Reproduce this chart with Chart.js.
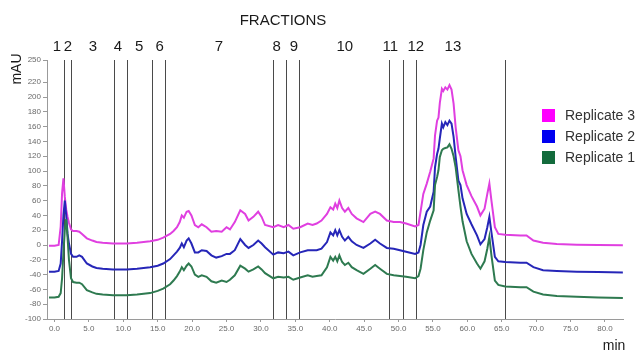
<!DOCTYPE html>
<html>
<head>
<meta charset="utf-8">
<script src="https://cdn.jsdelivr.net/npm/chart.js@4.4.1/dist/chart.umd.min.js"></script>
<style>
  html, body { margin: 0; padding: 0; background: #ffffff; }
  #wrap { width: 642px; height: 352px; position: relative; }
</style>
</head>
<body>
<div id="wrap"><canvas id="chromatogram" width="642" height="352"></canvas></div>
<script>
// Elution time (min)
const minutes = [
  -0.8, 0.0, 0.6, 0.9, 1.1, 1.3, 1.5, 1.7, 1.9, 2.1,
  2.4, 2.7, 3.2, 3.6, 4.0, 4.7, 5.5, 6.1, 7.0, 8.5,
  10.5, 12.0, 13.9, 15.0, 15.8, 16.8, 17.3, 17.8, 18.2, 18.5,
  18.8, 19.2, 19.5, 19.9, 20.4, 20.9, 21.4, 22.1, 22.8, 23.5,
  24.3, 25.0, 25.5, 26.2, 27.0, 27.7, 28.2, 28.9, 29.6, 30.1,
  30.6, 31.8, 32.5, 33.3, 34.0, 34.7, 35.7, 36.8, 37.5, 38.1,
  38.8, 39.6, 40.1, 40.5, 40.8, 41.1, 41.4, 41.8, 42.2, 42.7,
  43.2, 43.9, 44.9, 45.9, 46.6, 47.3, 48.3, 49.3, 50.2, 51.1,
  52.4, 52.9, 53.2, 53.6, 54.1, 54.6, 55.1, 55.3, 55.6, 55.8,
  56.0, 56.3, 56.5, 56.8, 57.1, 57.4, 57.7, 58.0, 58.3, 58.7,
  59.0, 59.3, 59.9, 60.6, 61.4, 61.9, 62.5, 62.9, 63.2, 63.5,
  64.0, 64.5, 65.5, 67.7, 68.6, 69.6, 71.0, 73.0, 75.9, 79.0,
  82.6
];

// Absorbance (mAU), one trace per replicate
const replicate3 = [
  -1, -1, 0, 25, 70, 90, 65, 48, 38, 30,
  21, 19, 19, 18, 15, 9, 6, 4, 3, 2,
  2, 3, 5, 7, 10, 15, 19, 24, 31, 40,
  37, 45, 46, 40, 27, 24, 28, 24, 18, 19,
  18, 24, 21, 31, 47, 42, 33, 38, 45, 38,
  27, 24, 27, 24, 27, 22, 24, 29, 27, 29,
  33, 42, 51, 48, 56, 50, 60, 50, 45, 50,
  42, 36, 31, 42, 45, 42, 33, 31, 31, 29,
  25, 27, 45, 69, 83, 99, 117, 148, 168, 172,
  192, 211, 208, 213, 210, 216, 210, 191, 159, 128,
  120, 101, 81, 66, 52, 40, 49, 69, 83, 60,
  24, 15, 14, 13, 13, 6, 3, 1.5, 0.5, 0,
  -0.5
];

const replicate2 = [
  -36, -36, -35, -25, 5, 40, 60, 40, 15, 2,
  -12, -16, -16, -14, -16, -25, -29, -31, -32, -33,
  -33, -32, -30, -28, -25, -19, -14, -9, -4, 2,
  -3, 6, 9, 2, -10, -10, -7, -8, -14, -17,
  -15, -12, -12, -7, 8, 0, -4, 0, 6, 2,
  -3, -13, -10, -11, -9, -14, -10, -7, -7, -7,
  -5, 4, 17, 13, 20, 13, 20, 11, 6, 11,
  5, 0, -4, 2, 7, 2, -4, -5, -7, -9,
  -12, -10, 0, 27, 45, 52, 72, 105, 123, 130,
  144, 164, 159, 166, 162, 168, 164, 146, 119, 87,
  81, 63, 42, 28, 13, 1, 8, 24, 38, 17,
  -16, -22, -23, -24, -24, -30, -34, -35, -36, -36.5,
  -37
];

const replicate1 = [
  -71, -71, -70, -65, -45, -10, 20, 35, 10, -20,
  -45, -50, -51, -51, -53, -61, -64, -66, -67, -68,
  -68, -67, -65, -62, -59, -53, -48, -42, -36, -30,
  -34, -28, -25, -29, -40, -43, -41, -43, -49, -51,
  -48, -50, -47, -41, -28, -32, -36, -33, -29, -33,
  -38, -45, -43, -44, -43, -47, -44, -41, -43, -42,
  -41, -30, -16, -21, -16, -22, -14, -23, -27, -24,
  -30, -34, -39, -32, -27, -32, -39, -41, -42, -43,
  -45, -42, -32, -7, 17, 33, 47, 81, 92, 101,
  119, 128, 130, 131, 132, 136, 130, 120, 105, 74,
  52, 32, 5, -12, -25, -32, -22, -5, 11, -14,
  -48, -54, -56, -57, -57, -63, -67, -69, -70, -71,
  -71.5
];

// Fraction collection: cut times (min) and the numbered labels above the plot
const fractionCuts = [1.4, 2.4, 8.65, 10.6, 14.2, 16.1, 31.7, 33.7, 35.6, 48.6, 50.6, 52.6, 65.4];
const fractionNames = ['1', '2', '3', '4', '5', '6', '7', '8', '9', '10', '11', '12', '13'];
const fractionLabelTimes = [0.36, 1.96, 5.6, 9.2, 12.3, 15.3, 23.9, 32.3, 34.8, 42.2, 48.8, 52.5, 57.9];

// Axis ticks
const xTickValues = [0, 5, 10, 15, 20, 25, 30, 35, 40, 45, 50, 55, 60, 65, 70, 75, 80];
const yTickValues = [-100, -80, -60, -40, -20, 0, 20, 40, 60, 80, 100, 120, 140, 160, 180, 200, 220, 250];

const seriesNames = ['Replicate 3', 'Replicate 2', 'Replicate 1'];
const lineColors = ['#e03fe0', '#2626b8', '#2e7a50'];
const keyColors = ['#ff00ff', '#0000f0', '#136b3c'];
const seriesValues = [replicate3, replicate2, replicate1];

const FONT = '"Liberation Sans", Arial, Helvetica, sans-serif';

function toPoints(values) {
  return minutes.map((t, i) => ({ x: t, y: values[i] }));
}

// Vertical fraction cut lines, drawn under the traces
const fractionLines = {
  id: 'fractionLines',
  beforeDatasetsDraw(chart) {
    const { ctx, chartArea, scales } = chart;
    ctx.save();
    ctx.strokeStyle = '#4a4a4a';
    ctx.lineWidth = 1;
    fractionCuts.forEach(t => {
      const px = Math.round(scales.x.getPixelForValue(t)) + 0.5;
      ctx.beginPath();
      ctx.moveTo(px, chartArea.top);
      ctx.lineTo(px, chartArea.bottom);
      ctx.stroke();
    });
    ctx.restore();
  }
};

// Titles, fraction numbers, axis names and the key
const annotations = {
  id: 'annotations',
  afterDraw(chart) {
    const { ctx, scales } = chart;
    ctx.save();
    ctx.fillStyle = '#1a1a1a';
    ctx.textAlign = 'center';
    ctx.textBaseline = 'middle';

    ctx.font = '15px ' + FONT;
    ctx.fillText('FRACTIONS', 283, 21);

    ctx.font = '15px ' + FONT;
    fractionNames.forEach((name, i) => {
      ctx.fillText(name, scales.x.getPixelForValue(fractionLabelTimes[i]), 47);
    });

    // y-axis unit
    ctx.save();
    ctx.translate(17, 69);
    ctx.rotate(-Math.PI / 2);
    ctx.font = '14px ' + FONT;
    ctx.fillText('mAU', 0, 0);
    ctx.restore();

    // x-axis unit
    ctx.font = '14px ' + FONT;
    ctx.fillText('min', 614, 346);

    // key
    ctx.textAlign = 'left';
    ctx.font = '14px ' + FONT;
    const keyY = [116, 137, 158];
    seriesNames.forEach((name, i) => {
      ctx.fillStyle = keyColors[i];
      ctx.fillRect(542, keyY[i] - 7, 13, 13);
      ctx.fillStyle = '#333333';
      ctx.fillText(name, 565, keyY[i]);
    });
    ctx.restore();
  }
};

new Chart(document.getElementById('chromatogram'), {
  type: 'line',
  data: {
    datasets: [2, 1, 0].map(i => ({
      label: seriesNames[i],
      data: toPoints(seriesValues[i]),
      borderColor: lineColors[i],
      backgroundColor: keyColors[i],
      borderWidth: 2,
      pointRadius: 0,
      tension: 0,
      fill: false
    }))
  },
  options: {
    responsive: false,
    animation: false,
    devicePixelRatio: 1,
    layout: { padding: { left: 0, top: 60, right: 19, bottom: 0 } },
    plugins: {
      legend: { display: false },
      tooltip: { enabled: false },
      title: { display: false }
    },
    scales: {
      x: {
        type: 'linear',
        min: -1.09,
        max: 82.62,
        afterBuildTicks(scale) { scale.ticks = xTickValues.map(v => ({ value: v })); },
        afterFit(scale) { scale.height = 33; },
        border: { display: true, color: '#9a9a9a', width: 1 },
        grid: { drawOnChartArea: false, drawTicks: true, tickLength: 3, color: '#9a9a9a' },
        ticks: {
          autoSkip: false,
          maxRotation: 0,
          padding: 2,
          color: '#6a6a6a',
          font: { family: FONT, size: 8 },
          callback: v => Number(v).toFixed(1)
        }
      },
      y: {
        type: 'linear',
        min: -100,
        max: 250,
        afterBuildTicks(scale) { scale.ticks = yTickValues.map(v => ({ value: v })); },
        afterFit(scale) { scale.width = 47; },
        border: { display: true, color: '#9a9a9a', width: 1 },
        grid: { drawOnChartArea: false, drawTicks: true, tickLength: 4, color: '#9a9a9a' },
        ticks: {
          autoSkip: false,
          padding: 2,
          color: '#6a6a6a',
          font: { family: FONT, size: 8 },
          callback: v => String(v)
        }
      }
    }
  },
  plugins: [fractionLines, annotations]
});
</script>
</body>
</html>
